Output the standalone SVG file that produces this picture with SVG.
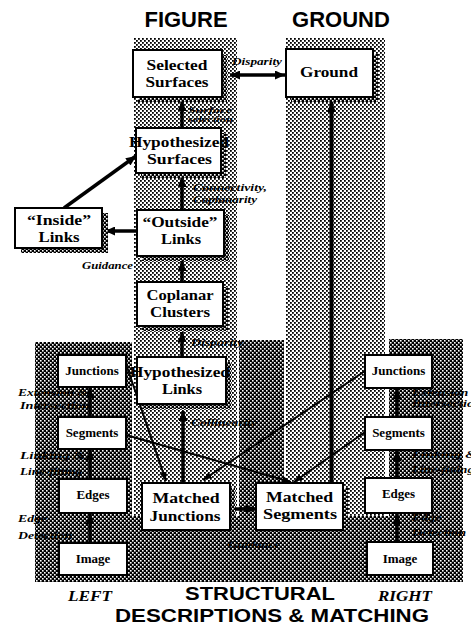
<svg xmlns="http://www.w3.org/2000/svg" width="471" height="626" viewBox="0 0 471 626">
<defs>
<pattern id="lt" width="4" height="4" patternUnits="userSpaceOnUse"><rect width="4" height="4" fill="#fff"/><rect x="0" y="0" width="1.8" height="1.8" fill="#000"/><rect x="2" y="2" width="1.8" height="1.8" fill="#000"/></pattern>
<pattern id="dk" width="4" height="4" patternUnits="userSpaceOnUse"><rect width="4" height="4" fill="#000"/><rect x="0" y="0" width="1.6" height="1.6" fill="#fff"/><rect x="2" y="2" width="1.6" height="1.6" fill="#fff"/></pattern>
<marker id="ah" viewBox="0 0 10 9" refX="10" refY="4.5" markerWidth="11" markerHeight="9" markerUnits="userSpaceOnUse" orient="auto-start-reverse"><path d="M0,0 L10,4.5 L0,9 z" fill="#000"/></marker>
<marker id="as" viewBox="0 0 10 8" refX="10" refY="4" markerWidth="9" markerHeight="7" markerUnits="userSpaceOnUse" orient="auto"><path d="M0,0 L10,4 L0,8 z" fill="#000"/></marker>
<style>
.lt{fill:url(#lt)}
.dk{fill:url(#dk)}
.sh{fill:url(#dk)}
.box{fill:#fff;stroke:#000;stroke-width:2}
.nl{font-family:"Liberation Serif","Times New Roman",serif;font-weight:bold;font-size:15px;text-anchor:middle;fill:#000}
.sl{font-family:"Liberation Serif","Times New Roman",serif;font-weight:bold;font-size:13px;text-anchor:middle;fill:#000}
.lab{font-family:"Liberation Serif","Times New Roman",serif;font-weight:bold;font-style:italic;font-size:11px;fill:#000}
.lab2{font-family:"Liberation Serif","Times New Roman",serif;font-weight:bold;font-style:italic;font-size:9.5px;fill:#000}
.ttl{font-family:"Liberation Sans",Arial,sans-serif;font-weight:bold;font-size:22px;fill:#000}
.ttl2{font-family:"Liberation Sans",Arial,sans-serif;font-weight:bold;font-size:19px;fill:#000}
.side{font-family:"Liberation Serif","Times New Roman",serif;font-weight:bold;font-style:italic;font-size:15px;fill:#000}
.ar{stroke:#000;stroke-width:3.5;fill:none;marker-end:url(#ah)}
.th{stroke:#000;stroke-width:2;fill:none;marker-end:url(#as)}
</style>
</defs>

<g id="background">
<rect class="lt" x="134" y="38" width="103" height="480"/>
<rect class="lt" x="286" y="38" width="99" height="480"/>
<rect class="dk" x="239" y="340" width="45" height="178"/>
<rect class="dk" x="35" y="342" width="97" height="240"/>
<rect class="dk" x="389" y="339" width="74" height="241"/>
<rect class="dk" x="35" y="516" width="428" height="66"/>
</g>

<g id="titles">
<text class="ttl" x="186" y="27" text-anchor="middle">FIGURE</text>
<text class="ttl" x="341" y="27" text-anchor="middle">GROUND</text>
<text class="ttl2" x="260" y="600" text-anchor="middle" textLength="150" lengthAdjust="spacingAndGlyphs">STRUCTURAL</text>
<text class="ttl2" x="272" y="621.5" text-anchor="middle" textLength="314" lengthAdjust="spacingAndGlyphs">DESCRIPTIONS &amp; MATCHING</text>
<text class="side" x="68" y="600.5" textLength="44" lengthAdjust="spacingAndGlyphs">LEFT</text>
<text class="side" x="378" y="600.5" textLength="54" lengthAdjust="spacingAndGlyphs">RIGHT</text>
</g>

<g id="connectors">
<line class="ar" x1="230" y1="75" x2="285" y2="75" style="marker-start:url(#ah)"/>
<line class="ar" x1="182" y1="128" x2="182" y2="101"/>
<line class="ar" x1="182" y1="210" x2="182" y2="177"/>
<line class="ar" x1="137" y1="231" x2="105" y2="231"/>
<line class="ar" x1="64" y1="208" x2="136" y2="156"/>
<line class="ar" x1="182" y1="282" x2="182" y2="261"/>
<line class="ar" x1="182" y1="357" x2="182" y2="332"/>
<line class="ar" x1="183" y1="483" x2="183" y2="411"/>
<line class="ar" x1="234" y1="509" x2="256" y2="509"/>
<line class="ar" x1="331.5" y1="483" x2="331.5" y2="102" style="stroke-width:4"/>
<line class="th" x1="126" y1="364" x2="166" y2="481"/>
<line class="th" x1="126" y1="435" x2="291" y2="482"/>
<line class="th" x1="365" y1="371" x2="203" y2="480"/>
<line class="th" x1="365" y1="432" x2="294" y2="482"/>
<line class="ar" x1="90" y1="543" x2="90" y2="514"/>
<line class="ar" x1="90" y1="479" x2="90" y2="450"/>
<line class="ar" x1="90" y1="417" x2="90" y2="388"/>
<line class="ar" x1="397" y1="542" x2="397" y2="514"/>
<line class="ar" x1="397" y1="478" x2="397" y2="451"/>
<line class="ar" x1="397" y1="417" x2="397" y2="389"/>
</g>

<g id="labels">
<text class="lab" x="232" y="65" textLength="50" lengthAdjust="spacingAndGlyphs">Disparity</text>
<text class="lab2" x="188" y="112.5" style="font-size:8.5px" textLength="44" lengthAdjust="spacingAndGlyphs">Surface</text>
<text class="lab2" x="188" y="122" style="font-size:8.5px" textLength="45" lengthAdjust="spacingAndGlyphs">selection</text>
<text class="lab2" x="193" y="191" textLength="74" lengthAdjust="spacingAndGlyphs">Connectivity,</text>
<text class="lab2" x="193" y="203" textLength="64" lengthAdjust="spacingAndGlyphs">Coplanarity</text>
<text class="lab" x="82" y="269" textLength="51" lengthAdjust="spacingAndGlyphs">Guidance</text>
<text class="lab" x="191" y="346" textLength="52" lengthAdjust="spacingAndGlyphs">Disparity</text>
<text class="lab" x="191" y="426" textLength="66" lengthAdjust="spacingAndGlyphs">Collinearity</text>
<text class="lab" x="228" y="548" textLength="52" lengthAdjust="spacingAndGlyphs">Guidance</text>
<text class="lab2" x="18" y="396" textLength="70" lengthAdjust="spacingAndGlyphs">Extension &amp;</text>
<text class="lab2" x="20" y="409" textLength="70" lengthAdjust="spacingAndGlyphs">Intersection</text>
<text class="lab2" x="20" y="459" textLength="65" lengthAdjust="spacingAndGlyphs">Linking &amp;</text>
<text class="lab2" x="20" y="475" textLength="62" lengthAdjust="spacingAndGlyphs">Line-fitting</text>
<text class="lab2" x="18" y="522" textLength="29" lengthAdjust="spacingAndGlyphs">Edge</text>
<text class="lab2" x="18" y="539" textLength="54" lengthAdjust="spacingAndGlyphs">Detection</text>
<text class="lab2" x="412" y="396" textLength="70" lengthAdjust="spacingAndGlyphs">Extension &amp;</text>
<text class="lab2" x="412" y="407" textLength="70" lengthAdjust="spacingAndGlyphs">Intersection</text>
<text class="lab2" x="412" y="458" textLength="65" lengthAdjust="spacingAndGlyphs">Linking &amp;</text>
<text class="lab2" x="412" y="473" textLength="62" lengthAdjust="spacingAndGlyphs">Line-fitting</text>
<text class="lab2" x="412" y="521" textLength="29" lengthAdjust="spacingAndGlyphs">Edge</text>
<text class="lab2" x="412" y="536" textLength="54" lengthAdjust="spacingAndGlyphs">Detection</text>
</g>

<g id="selected-surfaces">
<rect class="sh" x="138" y="55" width="89" height="47"/>
<rect class="box" x="133" y="50" width="89" height="47"/>
<text class="nl" x="177" y="70" textLength="61" lengthAdjust="spacingAndGlyphs">Selected</text>
<text class="nl" x="177" y="87" textLength="63" lengthAdjust="spacingAndGlyphs">Surfaces</text>
</g>

<g id="ground">
<rect class="sh" x="291" y="54" width="87" height="48"/>
<rect class="box" x="286" y="49" width="87" height="48"/>
<text class="nl" x="329" y="77" textLength="58" lengthAdjust="spacingAndGlyphs">Ground</text>
</g>

<g id="hypothesized-surfaces">
<rect class="sh" x="141" y="133" width="85" height="45"/>
<rect class="box" x="136" y="128" width="85" height="45"/>
<text class="nl" x="179" y="147" textLength="100" lengthAdjust="spacingAndGlyphs">Hypothesized</text>
<text class="nl" x="179.5" y="164" textLength="65" lengthAdjust="spacingAndGlyphs">Surfaces</text>
</g>

<g id="inside-links">
<rect class="sh" x="21" y="213" width="87" height="40"/>
<rect class="box" x="15" y="208" width="87" height="40"/>
<text class="nl" x="59" y="225" textLength="64" lengthAdjust="spacingAndGlyphs">“Inside”</text>
<text class="nl" x="59" y="242" textLength="41" lengthAdjust="spacingAndGlyphs">Links</text>
</g>

<g id="outside-links">
<rect class="sh" x="142" y="215" width="87" height="46"/>
<rect class="box" x="137" y="210" width="87" height="46"/>
<text class="nl" x="180" y="227" textLength="75" lengthAdjust="spacingAndGlyphs">“Outside”</text>
<text class="nl" x="181" y="244" textLength="40" lengthAdjust="spacingAndGlyphs">Links</text>
</g>

<g id="coplanar-clusters">
<rect class="sh" x="142" y="287" width="86" height="44"/>
<rect class="box" x="137" y="282" width="86" height="44"/>
<text class="nl" x="180" y="300" textLength="67" lengthAdjust="spacingAndGlyphs">Coplanar</text>
<text class="nl" x="180" y="317" textLength="60" lengthAdjust="spacingAndGlyphs">Clusters</text>
</g>

<g id="hypothesized-links">
<rect class="sh" x="142" y="362" width="89" height="47"/>
<rect class="box" x="137" y="357" width="89" height="47"/>
<text class="nl" x="180" y="377" textLength="100" lengthAdjust="spacingAndGlyphs">Hypothesized</text>
<text class="nl" x="182" y="394" textLength="40" lengthAdjust="spacingAndGlyphs">Links</text>
</g>

<g id="matched-junctions">
<rect class="sh" x="147" y="488" width="88" height="47"/>
<rect class="box" x="142" y="483" width="88" height="47"/>
<text class="nl" x="186" y="503" textLength="67" lengthAdjust="spacingAndGlyphs">Matched</text>
<text class="nl" x="185" y="521" textLength="71" lengthAdjust="spacingAndGlyphs">Junctions</text>
</g>

<g id="matched-segments">
<rect class="sh" x="261" y="488" width="87" height="47"/>
<rect class="box" x="256" y="483" width="87" height="47"/>
<text class="nl" x="299.5" y="502" textLength="67" lengthAdjust="spacingAndGlyphs">Matched</text>
<text class="nl" x="300" y="519" textLength="74" lengthAdjust="spacingAndGlyphs">Segments</text>
</g>

<g id="left-junctions">
<rect class="box" x="58" y="355" width="68" height="32"/>
<text class="sl" x="92" y="375">Junctions</text>
</g>
<g id="left-segments">
<rect class="box" x="58" y="417" width="68" height="32"/>
<text class="sl" x="92" y="437">Segments</text>
</g>
<g id="left-edges">
<rect class="box" x="59" y="479" width="68" height="34"/>
<text class="sl" x="93" y="499">Edges</text>
</g>
<g id="left-image">
<rect class="box" x="59" y="543" width="68" height="32"/>
<text class="sl" x="93" y="563">Image</text>
</g>

<g id="right-junctions">
<rect class="box" x="365" y="355" width="67" height="33"/>
<text class="sl" x="398.5" y="375">Junctions</text>
</g>
<g id="right-segments">
<rect class="box" x="365" y="417" width="67" height="33"/>
<text class="sl" x="398.5" y="437">Segments</text>
</g>
<g id="right-edges">
<rect class="box" x="365" y="478" width="67" height="35"/>
<text class="sl" x="398.5" y="498">Edges</text>
</g>
<g id="right-image">
<rect class="box" x="367" y="542" width="66" height="33"/>
<text class="sl" x="400" y="563">Image</text>
</g>
</svg>
